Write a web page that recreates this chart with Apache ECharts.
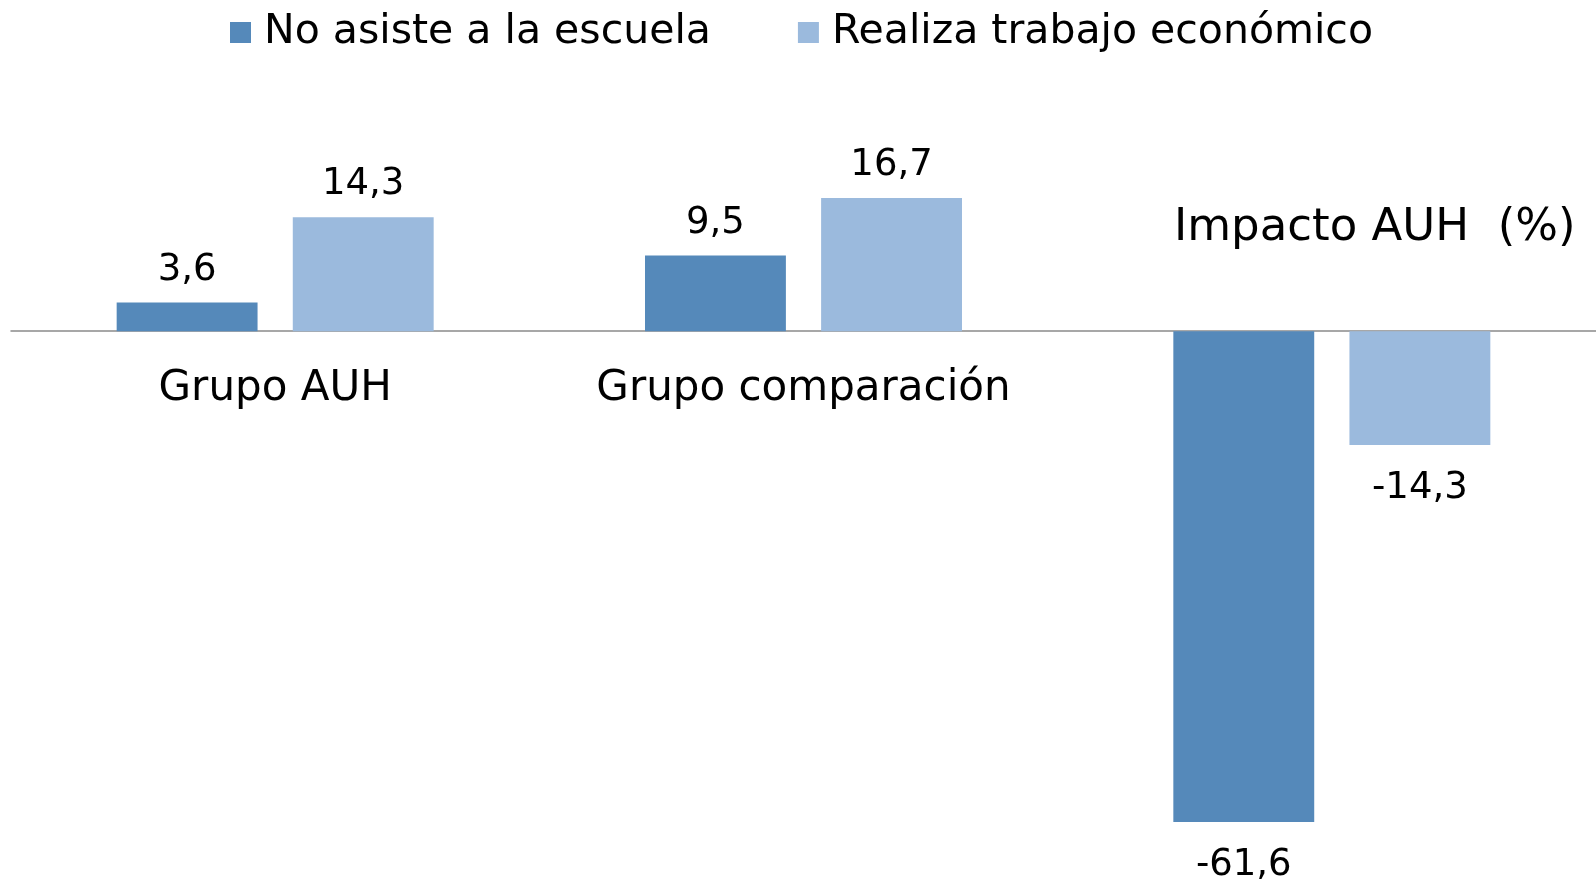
<!DOCTYPE html>
<html>
<head>
<meta charset="utf-8">
<script src="https://cdn.jsdelivr.net/npm/echarts@6/dist/echarts.min.js"></script>
<style>
html,body{margin:0;padding:0;background:#fff;}
#chart{width:1596px;height:880px;}
</style>
</head>
<body>
<div id="chart"></div>
<script>
const categories = ['Grupo AUH', 'Grupo comparación', 'Impacto AUH  (%)'];
const seriesNames = ['No asiste a la escuela', 'Realiza trabajo económico'];
const noAsiste = [3.6, 9.5, -61.6];
const trabajo = [14.3, 16.7, -14.3];

const FONT = 'DejaVu Sans';
const colors = ['#5589BA', '#9BBADD'];
const Y_MIN = -65, Y_MAX = 25;
const GRID_TOP = 132, GRID_BOTTOM = 31, H = 880;
const gridHeight = H - GRID_TOP - GRID_BOTTOM;
const zeroOffset = -gridHeight * (0 - Y_MIN) / (Y_MAX - Y_MIN);

function fmt(v) { return v.toFixed(1).replace('.', ','); }
function items(vals) {
  return vals.map(v => ({
    value: v,
    label: { position: v < 0 ? 'bottom' : 'top', distance: v < 0 ? 25 : 14 }
  }));
}

const chart = echarts.init(document.getElementById('chart'), null, { renderer: 'canvas' });
chart.setOption({
  backgroundColor: '#ffffff',
  animation: false,
  title: {
    text: categories[2],
    left: 1174, top: 206, padding: 0,
    textStyle: { fontFamily: FONT, fontSize: 45, fontWeight: 'normal', color: '#000' }
  },
  legend: {
    data: seriesNames,
    left: 230, top: 12, padding: 0,
    itemWidth: 21, itemHeight: 21, itemGap: 87,
    icon: 'rect',
    textStyle: { fontFamily: FONT, fontSize: 41, color: '#000', padding: [0, 0, 0, 8] }
  },
  grid: { left: 11, right: 0, top: GRID_TOP, bottom: GRID_BOTTOM, containLabel: false, outerBoundsMode: 'none' },
  xAxis: {
    type: 'category',
    data: categories,
    position: 'bottom',
    offset: zeroOffset,
    axisLine: { show: true, onZero: false, lineStyle: { color: '#8a8a8a', width: 1.5 } },
    axisTick: { show: false },
    axisLabel: {
      interval: 0,
      margin: 37,
      fontFamily: FONT, fontSize: 42, color: '#000',
      formatter: (v, i) => (i === 2 ? '' : v)
    },
    splitLine: { show: false }
  },
  yAxis: {
    type: 'value', min: Y_MIN, max: Y_MAX, show: false,
    splitLine: { show: false }
  },
  series: [
    {
      name: seriesNames[0], type: 'bar', data: items(noAsiste),
      barCategoryGap: '40%', barGap: '25%',
      itemStyle: { color: colors[0] },
      label: { show: true, fontFamily: FONT, fontSize: 37, color: '#000', formatter: p => fmt(p.value) }
    },
    {
      name: seriesNames[1], type: 'bar', data: items(trabajo),
      barCategoryGap: '40%', barGap: '25%',
      itemStyle: { color: colors[1] },
      label: { show: true, fontFamily: FONT, fontSize: 37, color: '#000', formatter: p => fmt(p.value) }
    }
  ]
});
</script>
</body>
</html>
